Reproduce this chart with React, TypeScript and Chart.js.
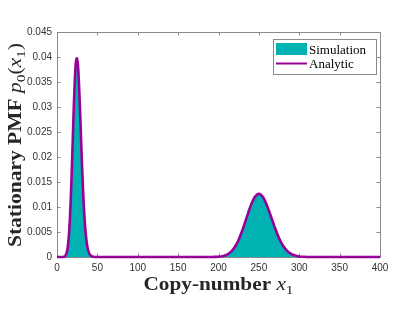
import React, { useEffect, useRef } from 'react';
import { Chart, registerables } from 'chart.js';
Chart.register(...registerables);

const copyNumbers = [
  0, 7, 8, 9, 10, 11, 12, 13, 14, 15, 16, 17, 18, 19, 20, 21, 22, 23, 24, 25, 26,
  27, 28, 29, 30, 31, 32, 33, 34, 35, 36, 37, 38, 39, 40, 41, 42, 43, 44, 45, 50,
  185, 190, 195, 200, 205, 210, 215, 220, 225, 230, 235, 240, 245, 250, 255, 260,
  265, 270, 275, 280, 285, 290, 295, 300, 305, 310, 320, 400,
];
// Analytic stationary PMF values
const analyticPmf = [
  0, 0, 0.00003, 0.00007, 0.00018, 0.00042, 0.00086, 0.00166, 0.00297, 0.00494,
  0.00773, 0.01137, 0.01579, 0.02077, 0.02596, 0.03091, 0.03512, 0.03817, 0.03976,
  0.03976, 0.03823, 0.0354, 0.03161, 0.02725, 0.02271, 0.01831, 0.01431, 0.01084,
  0.00797, 0.00569, 0.00395, 0.00267, 0.00176, 0.00113, 0.00071, 0.00043, 0.00026,
  0.00015, 0.00008, 0.00005, 0,
  0, 0.00001, 0.00002, 0.00006, 0.00017, 0.00043, 0.00097, 0.00194, 0.00346,
  0.00555, 0.00797, 0.01032, 0.01199, 0.01265, 0.01199, 0.01032, 0.00811, 0.00579,
  0.00376, 0.00224, 0.00122, 0.00061, 0.00028, 0.00011, 0.00004, 0.00001, 0, 0,
];
// Simulated (histogram) PMF values
const simulationPmf = [
  0, 0, 0.00003, 0.00007, 0.00018, 0.00042, 0.00086, 0.00166, 0.00297, 0.00494,
  0.00773, 0.01137, 0.01579, 0.02077, 0.02596, 0.03091, 0.03512, 0.03817, 0.03976,
  0.03976, 0.03823, 0.0354, 0.03161, 0.02725, 0.02271, 0.01831, 0.01431, 0.01084,
  0.00797, 0.00569, 0.00395, 0.00267, 0.00176, 0.00113, 0.00071, 0.00043, 0.00026,
  0.00015, 0.00008, 0.00005, 0,
  0, 0.00001, 0.00002, 0.00006, 0.00017, 0.00043, 0.00097, 0.00194, 0.00346,
  0.00555, 0.00797, 0.01032, 0.01199, 0.01265, 0.01199, 0.01032, 0.00811, 0.00579,
  0.00376, 0.00224, 0.00122, 0.00061, 0.00028, 0.00011, 0.00004, 0.00001, 0, 0,
];
const xTicks = [0, 50, 100, 150, 200, 250, 300, 350, 400];
const xTickLabels = ['0', '50', '100', '150', '200', '250', '300', '350', '400'];
const yTicks = [0, 0.005, 0.01, 0.015, 0.02, 0.025, 0.03, 0.035, 0.04, 0.045];
const yTickLabels = ['0', '0.005', '0.01', '0.015', '0.02', '0.025', '0.03', '0.035', '0.04', '0.045'];
const legendLabels = ['Simulation', 'Analytic'];

const TEAL = '#00b2b2';
const PURPLE = '#990099';
const AXIS = '#8a8a8a';
const TICKTXT = '#333333';
const SERIF = '"Liberation Serif", "DejaVu Serif", serif';

type Seg = { t: string; font: string; dy: number };

// draws centred mixed-style text, stretched horizontally to the target width
function drawSegs(ctx: CanvasRenderingContext2D, segs: Seg[], x: number, y: number, target: number) {
  let total = 0;
  for (const s of segs) { ctx.font = s.font; total += ctx.measureText(s.t).width; }
  const k = target / total;
  ctx.save();
  ctx.translate(x, y);
  ctx.scale(k, 1);
  let cx = -total / 2;
  ctx.textAlign = 'left';
  ctx.textBaseline = 'alphabetic';
  for (const s of segs) {
    ctx.font = s.font;
    ctx.fillText(s.t, cx, s.dy);
    cx += ctx.measureText(s.t).width;
  }
  ctx.restore();
}

const framePlugin = {
  id: 'frame',
  beforeDatasetsDraw(chart: any) {
    const { ctx, chartArea: a, scales } = chart;
    ctx.save();
    ctx.strokeStyle = AXIS;
    ctx.lineWidth = 1;
    ctx.strokeRect(Math.round(a.left) + 0.5, Math.round(a.top) + 0.5, Math.round(a.right - a.left), Math.round(a.bottom - a.top));
    const tl = 3.5;
    ctx.beginPath();
    for (const v of xTicks) {
      const px = Math.round(scales.x.getPixelForValue(v)) + 0.5;
      ctx.moveTo(px, a.bottom); ctx.lineTo(px, a.bottom - tl);
      ctx.moveTo(px, a.top); ctx.lineTo(px, a.top + tl);
    }
    for (const v of yTicks) {
      const py = Math.round(scales.y.getPixelForValue(v)) + 0.5;
      ctx.moveTo(a.left, py); ctx.lineTo(a.left + tl, py);
      ctx.moveTo(a.right, py); ctx.lineTo(a.right - tl, py);
    }
    ctx.stroke();
    ctx.restore();
  },
  afterDraw(chart: any) {
    const { ctx, chartArea: a } = chart;
    ctx.save();
    ctx.fillStyle = '#262626';
    // x title
    drawSegs(ctx, [
      { t: 'Copy-number ', font: `bold 18px ${SERIF}`, dy: 0 },
      { t: 'x', font: `italic 18px ${SERIF}`, dy: 0 },
      { t: '1', font: `13px ${SERIF}`, dy: 4 },
    ], (a.left + a.right) / 2, 290, 150);
    // y title
    ctx.save();
    ctx.translate(21, 145);
    ctx.rotate(-Math.PI / 2);
    drawSegs(ctx, [
      { t: 'Stationary PMF ', font: `bold 18px ${SERIF}`, dy: 0 },
      { t: 'p', font: `italic 18px ${SERIF}`, dy: 0 },
      { t: '0', font: `13px ${SERIF}`, dy: 4 },
      { t: '(', font: `18px ${SERIF}`, dy: 0 },
      { t: 'x', font: `italic 18px ${SERIF}`, dy: 0 },
      { t: '1', font: `13px ${SERIF}`, dy: 4 },
      { t: ')', font: `18px ${SERIF}`, dy: 0 },
    ], 0, 0, 204);
    ctx.restore();
    // legend
    ctx.fillStyle = '#ffffff';
    ctx.fillRect(273.5, 39.5, 103, 35);
    ctx.strokeStyle = AXIS;
    ctx.lineWidth = 1;
    ctx.strokeRect(273.5, 39.5, 103, 35);
    ctx.fillStyle = TEAL;
    ctx.fillRect(276, 43, 31, 12);
    ctx.strokeStyle = PURPLE;
    ctx.lineWidth = 2;
    ctx.beginPath();
    ctx.moveTo(276, 63.5); ctx.lineTo(307, 63.5);
    ctx.stroke();
    ctx.fillStyle = '#000';
    ctx.font = `13px ${SERIF}`;
    ctx.textAlign = 'left';
    ctx.textBaseline = 'alphabetic';
    ctx.fillText(legendLabels[0], 309, 54);
    ctx.fillText(legendLabels[1], 309, 67.5);
    ctx.restore();
  },
};

export default function App() {
  const ref = useRef<HTMLCanvasElement>(null);
  useEffect(() => {
    document.body.style.margin = '0';
    const simData = copyNumbers.map((x, i) => ({ x, y: simulationPmf[i] }));
    const anaData = copyNumbers.map((x, i) => ({ x, y: analyticPmf[i] }));
    const chart = new Chart(ref.current!, {
      type: 'line',
      data: {
        datasets: [
          {
            label: legendLabels[1],
            data: anaData,
            borderColor: PURPLE,
            borderWidth: 2.6,
            pointRadius: 0,
            fill: false,
            cubicInterpolationMode: 'monotone',
            clip: false,
            order: 0,
          } as any,
          {
            label: legendLabels[0],
            data: simData,
            borderWidth: 0,
            borderColor: 'rgba(0,0,0,0)',
            backgroundColor: TEAL,
            pointRadius: 0,
            fill: 'origin',
            cubicInterpolationMode: 'monotone',
            order: 1,
          } as any,
        ],
      },
      options: {
        responsive: false,
        animation: false,
        layout: { padding: { left: 0, right: 35, top: 32, bottom: 0 } },
        plugins: { legend: { display: false }, tooltip: { enabled: false } },
        scales: {
          x: {
            type: 'linear',
            min: 0,
            max: 400,
            grid: { display: false, drawTicks: false },
            border: { display: false },
            afterBuildTicks: (s: any) => { s.ticks = xTicks.map((v) => ({ value: v })); },
            afterFit: (s: any) => { s.height = 63; },
            ticks: {
              padding: 5,
              maxRotation: 0,
              autoSkip: false,
              color: TICKTXT,
              font: { family: '"Liberation Sans", Arial, sans-serif', size: 10 },
              callback: (v: any) => xTickLabels[xTicks.indexOf(Number(v))] ?? '',
            },
          },
          y: {
            type: 'linear',
            min: 0,
            max: 0.045,
            grid: { display: false, drawTicks: false },
            border: { display: false },
            afterBuildTicks: (s: any) => { s.ticks = yTicks.map((v) => ({ value: v })); },
            afterFit: (s: any) => { s.width = 57; },
            ticks: {
              padding: 5,
              autoSkip: false,
              color: TICKTXT,
              font: { family: '"Liberation Sans", Arial, sans-serif', size: 10 },
              callback: (v: any) => {
                const i = yTicks.findIndex((t) => Math.abs(t - Number(v)) < 1e-9);
                return i >= 0 ? yTickLabels[i] : '';
              },
            },
          },
        },
      } as any,
      plugins: [framePlugin],
    });
    return () => chart.destroy();
  }, []);
  return (
    <div style={{ position: 'absolute', left: 0, top: 0, width: 415, height: 320, background: '#fff' }}>
      <canvas ref={ref} width={415} height={320} />
    </div>
  );
}
